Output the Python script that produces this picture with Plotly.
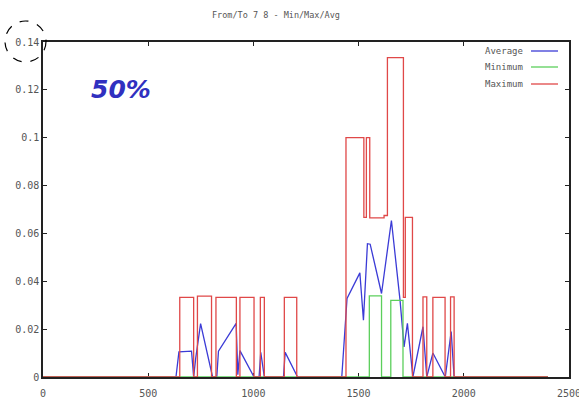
import plotly.graph_objects as go

# ---- data -------------------------------------------------------------
# Maximum (step series: value holds from x until the next x)
max_x = [0, 650, 716, 734, 801, 822, 919, 936, 1003, 1033, 1052, 1147, 1206,
         1440, 1525, 1537, 1553, 1621, 1637, 1713, 1722, 1756,
         1806, 1824, 1853, 1911, 1937, 1954, 2400]
max_y = [0, 0.0333, 0, 0.0338, 0, 0.0333, 0, 0.0333, 0, 0.0333, 0, 0.0333, 0,
         0.1, 0.0667, 0.1, 0.0665, 0.0675, 0.1335, 0.0333, 0.0667, 0,
         0.0335, 0, 0.0333, 0, 0.0335, 0, 0]

# Minimum (step series)
min_x = [0, 1551, 1609, 1653, 1711, 2400]
min_y = [0, 0.0339, 0, 0.032, 0, 0]

# Average (straight segments between samples)
avg_x = [0, 632, 646, 706, 716, 726, 749, 806, 826, 834, 918, 926, 936, 1003,
         1027, 1035, 1052, 1143, 1151, 1210,
         1420, 1445, 1506, 1523, 1542, 1555, 1609, 1656, 1697, 1716, 1732, 1758,
         1806, 1824, 1853, 1912, 1940, 1954, 2400]
avg_y = [0, 0, 0.0105, 0.0108, 0, 0.008, 0.0223, 0, 0, 0.0108, 0.0224, 0.001, 0.011, 0,
         0, 0.0103, 0, 0, 0.0103, 0,
         0, 0.0328, 0.0435, 0.0237, 0.0557, 0.0555, 0.0349, 0.0654, 0.032, 0.0126, 0.0224, 0,
         0.021, 0, 0.01, 0, 0.019, 0, 0]

x_ticks = [0, 500, 1000, 1500, 2000, 2500]
y_ticks = [0, 0.02, 0.04, 0.06, 0.08, 0.1, 0.12, 0.14]
y_tick_text = ["0", "0.02", "0.04", "0.06", "0.08", "0.1", "0.12", "0.14"]

series_names = ["Average", "Minimum", "Maximum"]
series_colors = ["#3b3bd6", "#5ccf5c", "#e04848"]

# ---- layout geometry --------------------------------------------------
W, H = 579, 402
ML, MR, MT, MB = 43, 10, 42, 25
PW, PH = W - ML - MR, H - MT - MB


def px(x):
    return (x - ML) / PW


def py(y):
    return (H - MB - y) / PH


TEXT = "#555555"
MONO = "DejaVu Sans Mono"

fig = go.Figure()
fig.add_trace(go.Scatter(x=avg_x, y=avg_y, mode="lines", name=series_names[0],
                         line=dict(color=series_colors[0], width=1.3)))
fig.add_trace(go.Scatter(x=min_x, y=min_y, mode="lines", name=series_names[1],
                         line=dict(color=series_colors[1], width=1.3, shape="hv")))
fig.add_trace(go.Scatter(x=max_x, y=max_y, mode="lines", name=series_names[2],
                         line=dict(color=series_colors[2], width=1.3, shape="hv")))

axis_common = dict(
    showgrid=False, zeroline=False, showline=True, linecolor="#222",
    linewidth=1.5, mirror="allticks", ticks="inside", ticklen=4,
    tickcolor="#222", tickwidth=1.2, automargin=False,
    ticklabeloverflow="allow",
    tickfont=dict(family=MONO, size=10, color=TEXT), layer="below traces",
)

fig.update_layout(
    width=W, height=H,
    margin=dict(l=ML, r=MR, t=MT, b=MB),
    paper_bgcolor="white", plot_bgcolor="white",
    showlegend=False,
    xaxis=dict(range=[0, 2500], tickvals=x_ticks, ticklabelstandoff=6,
               **axis_common),
    yaxis=dict(range=[0, 0.14], tickvals=y_ticks, ticktext=y_tick_text,
               **axis_common),
)


def label(text, x, y, size, family=MONO, color=TEXT, xanchor="center"):
    return dict(text=text, x=px(x), y=py(y), xref="paper", yref="paper",
                xanchor=xanchor, yanchor="middle", showarrow=False,
                font=dict(family=family, size=size, color=color))


annotations = [
    label("From/To 7 8 - Min/Max/Avg", 276, 15, 8.5),
    label("<b><i>50%</i></b>", 121, 89, 25, family="DejaVu Sans", color="#3030c0"),
]

shapes = [
    dict(type="circle", xref="paper", yref="paper",
         x0=px(5), x1=px(46), y0=py(62), y1=py(21),
         line=dict(color="black", width=1.2, dash="dash")),
]

# key in the upper-right corner of the plot
legend_rows = [51, 67, 84]
for name, color, yrow in zip(series_names, series_colors, legend_rows):
    annotations.append(label(name, 525, yrow, 9, xanchor="right"))
    shapes.append(dict(type="line", xref="paper", yref="paper",
                       x0=px(531), x1=px(558), y0=py(yrow), y1=py(yrow),
                       line=dict(color=color, width=1.3)))

fig.update_layout(annotations=annotations, shapes=shapes)

fig.write_html("out.html")
